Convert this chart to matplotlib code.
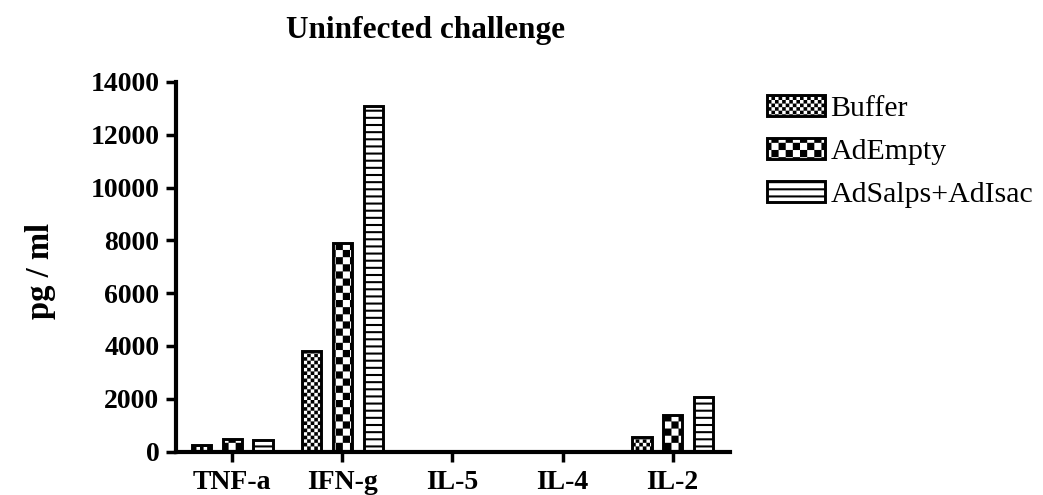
import numpy as np
import matplotlib
matplotlib.use("Agg")
import matplotlib.pyplot as plt
import matplotlib.hatch as mhatch
from matplotlib.path import Path

# ---------------- data ----------------
categories = ["TNF-a", "IFN-g", "IL-5", "IL-4", "IL-2"]
series_names = ["Buffer", "AdEmpty", "AdSalps+AdIsac"]
buffer_vals = [230, 3800, 0, 20, 550]
adempty_vals = [460, 7900, 0, 20, 1380]
adsalps_vals = [450, 13100, 20, 0, 2050]
yticks = [0, 2000, 4000, 6000, 8000, 10000, 12000, 14000]
title = "Uninfected challenge"
ylabel = "pg / ml"


# ---------------- custom hatch patterns (filled polygons) ----------------
class PatternHatch(mhatch.HatchPatternBase):
    """'o' -> fine checkerboard, 'O' -> coarse checkerboard, '-' -> horizontal bars."""

    def __init__(self, hatch, density):
        polys = []
        if "o" in hatch:
            polys += self._checker(28)
        if "O" in hatch:
            polys += self._checker(14)
        if "-" in hatch:
            n = 14
            h = 0.02
            for i in range(n):
                y = (i + 0.5) / n
                polys.append([(0, y - h / 2), (1, y - h / 2), (1, y + h / 2), (0, y + h / 2)])
        self.polys = polys
        self.num_vertices = 5 * len(polys)

    @staticmethod
    def _checker(n):
        c = 1.0 / n
        out = []
        for i in range(n):
            for j in range(n):
                if (i + j) % 2 == 0:
                    x0, y0 = i * c, j * c
                    out.append([(x0, y0), (x0 + c, y0), (x0 + c, y0 + c), (x0, y0 + c)])
        return out

    def set_vertices_and_codes(self, vertices, codes):
        k = 0
        for p in self.polys:
            vertices[k:k + 4] = p
            vertices[k + 4] = p[0]
            codes[k] = Path.MOVETO
            codes[k + 1:k + 4] = Path.LINETO
            codes[k + 4] = Path.CLOSEPOLY
            k += 5


mhatch._hatch_types = [PatternHatch]
plt.rcParams["hatch.linewidth"] = 0.05

plt.rcParams["font.family"] = ["Liberation Serif", "DejaVu Serif"]

W, H = 1043, 495
fig = plt.figure(figsize=(W / 100, H / 100), dpi=100)
ax = fig.add_axes([176 / W, 1 - 451.5 / H, (730 - 176) / W, (451.5 - 82) / H])

x = np.arange(len(categories))
pitch = 0.28
width = 0.175
hatches = ["o", "O", "-"]
all_vals = [buffer_vals, adempty_vals, adsalps_vals]
for k, (name, vals, hp) in enumerate(zip(series_names, all_vals, hatches)):
    ax.bar(x + (k - 1) * pitch, vals, width, facecolor="white", edgecolor="black",
           linewidth=2.1, hatch=hp, label=name, zorder=1)

ax.set_xlim(-0.51, 4.52)
ax.set_ylim(0, 14000)
ax.set_yticks(yticks)
ax.set_yticklabels([str(v) for v in yticks])
ax.set_xticks(x)
ax.set_xticklabels(categories)

for s in ["top", "right"]:
    ax.spines[s].set_visible(False)
for s in ["left", "bottom"]:
    ax.spines[s].set_linewidth(3)

ax.tick_params(axis="both", direction="out", length=7, width=2.5, labelsize=20)
ax.tick_params(axis="y", pad=5)
ax.tick_params(axis="x", pad=6)
for lab in ax.get_xticklabels() + ax.get_yticklabels():
    lab.set_fontweight("bold")

fig.text(426 / W, 1 - 38 / H, title, ha="center", va="baseline",
         fontsize=22.5, fontweight="bold")
fig.text(41 / W, 1 - 271 / H, ylabel, ha="center", va="center", rotation=90,
         fontsize=23.5, fontweight="bold")

leg = fig.legend(loc="upper left", bbox_to_anchor=(767 / W, 1 - 95 / H),
                 frameon=False, fontsize=21.5, handlelength=1.93, handleheight=0.68,
                 handletextpad=0.2, labelspacing=0.55, borderpad=0, borderaxespad=0)

fig.savefig("out.png", dpi=100)
